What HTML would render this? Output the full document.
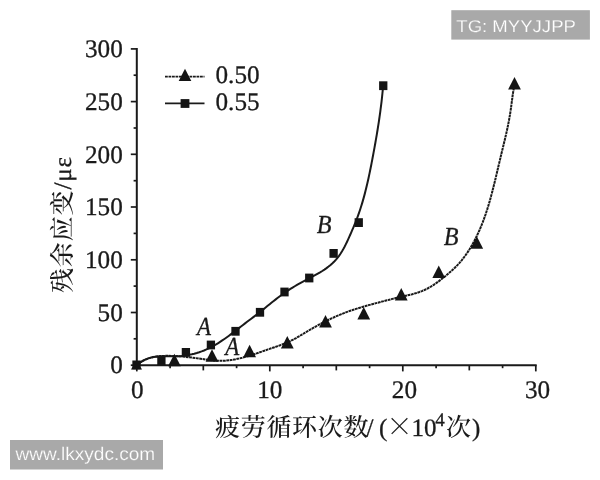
<!DOCTYPE html>
<html lang="zh"><head><meta charset="utf-8"><title>chart</title>
<style>html,body{margin:0;padding:0;background:#fff}body{width:600px;height:480px;overflow:hidden}svg{display:block}text{text-rendering:geometricPrecision}.n{font-family:"Liberation Serif",serif;font-size:25.2px;fill:#1a1a1a}.i{font-family:"Liberation Serif",serif;font-size:26px;font-style:italic;fill:#1a1a1a}.c{font-family:"Liberation Serif","Noto Serif CJK SC",serif;font-size:25px;font-weight:500;fill:#1a1a1a}.n,.i,.s{stroke:#1a1a1a;stroke-width:0.3px}.w{font-family:"Liberation Sans",sans-serif;fill:#fff;stroke:#a9a9a9;stroke-width:0.2px}</style></head><body>
<svg width="600" height="480" viewBox="0 0 600 480">
<rect width="600" height="480" fill="#fff"/>
<g stroke="#1a1a1a" stroke-width="1.7" fill="none">
<path d="M136.8,48.1 V365.2 H536.7" stroke-width="2"/>
<path d="M136.8,365.2 h-6"/>
<path d="M136.8,338.8 h-3.2"/>
<path d="M136.8,312.5 h-6"/>
<path d="M136.8,286.1 h-3.2"/>
<path d="M136.8,259.8 h-6"/>
<path d="M136.8,233.4 h-3.2"/>
<path d="M136.8,207.0 h-6"/>
<path d="M136.8,180.7 h-3.2"/>
<path d="M136.8,154.3 h-6"/>
<path d="M136.8,128.0 h-3.2"/>
<path d="M136.8,101.6 h-6"/>
<path d="M136.8,75.2 h-3.2"/>
<path d="M136.8,48.9 h-6"/>
<path d="M136.8,365.2 v6.2"/>
<path d="M170.1,365.2 v3.0"/>
<path d="M203.3,365.2 v5.2"/>
<path d="M236.6,365.2 v3.0"/>
<path d="M269.8,365.2 v6.2"/>
<path d="M303.1,365.2 v3.0"/>
<path d="M336.3,365.2 v5.2"/>
<path d="M369.6,365.2 v3.0"/>
<path d="M402.8,365.2 v6.2"/>
<path d="M436.1,365.2 v3.0"/>
<path d="M469.3,365.2 v5.2"/>
<path d="M502.6,365.2 v3.0"/>
<path d="M535.8,365.2 v6.2"/>
</g>
<path d="M136.90,365.12 L138.97,363.35 L141.14,361.80 L143.39,360.46 L145.72,359.32 L148.11,358.38 L150.55,357.63 L153.05,357.06 L155.57,356.66 L158.13,356.41 L160.71,356.29 L163.30,356.26 L165.91,356.28 L168.53,356.33 L171.14,356.37 L173.76,356.37 L176.37,356.31 L178.97,356.16 L181.56,355.95 L184.13,355.65 L186.70,355.28 L189.24,354.83 L191.77,354.30 L194.27,353.70 L196.76,353.01 L199.22,352.24 L201.65,351.39 L204.06,350.45 L206.44,349.44 L208.79,348.34 L211.10,347.17 L213.39,345.93 L215.65,344.63 L217.88,343.28 L220.09,341.88 L222.27,340.44 L224.42,338.96 L226.54,337.46 L228.65,335.94 L230.73,334.40 L232.79,332.85 L234.85,331.28 L236.89,329.70 L238.93,328.12 L240.97,326.54 L243.00,324.95 L245.05,323.37 L247.10,321.81 L249.16,320.25 L251.23,318.69 L253.31,317.14 L255.39,315.59 L257.46,314.01 L259.52,312.42 L261.57,310.80 L263.60,309.16 L265.63,307.50 L267.65,305.84 L269.67,304.19 L271.69,302.55 L273.71,300.93 L275.74,299.34 L277.78,297.77 L279.84,296.24 L281.91,294.72 L284.00,293.24 L286.11,291.78 L288.23,290.36 L290.39,288.96 L292.57,287.59 L294.78,286.25 L297.02,284.94 L299.29,283.66 L301.59,282.41 L303.91,281.17 L306.24,279.94 L308.57,278.71 L310.90,277.48 L313.22,276.23 L315.53,274.97 L317.81,273.67 L320.05,272.35 L322.26,270.98 L324.42,269.56 L326.53,268.09 L328.58,266.56 L330.56,264.95 L332.47,263.27 L334.29,261.50 L336.02,259.65 L337.66,257.69 L339.20,255.64 L340.65,253.50 L342.03,251.29 L343.34,249.02 L344.58,246.70 L345.77,244.34 L346.93,241.95 L348.04,239.55 L349.14,237.15 L350.21,234.75 L351.27,232.36 L352.31,229.97 L353.33,227.58 L354.32,225.19 L355.29,222.80 L356.24,220.40 L357.16,218.00 L358.05,215.58 L358.91,213.15 L359.75,210.72 L360.56,208.27 L361.34,205.81 L362.09,203.34 L362.82,200.86 L363.53,198.37 L364.22,195.87 L364.88,193.37 L365.53,190.85 L366.16,188.34 L366.76,185.81 L367.36,183.28 L367.93,180.75 L368.50,178.21 L369.04,175.66 L369.58,173.11 L370.11,170.57 L370.62,168.01 L371.13,165.46 L371.63,162.91 L372.12,160.35 L372.60,157.80 L373.09,155.25 L373.56,152.69 L374.03,150.14 L374.50,147.59 L374.96,145.04 L375.41,142.49 L375.86,139.93 L376.30,137.38 L376.74,134.83 L377.16,132.28 L377.58,129.72 L377.99,127.17 L378.39,124.61 L378.78,122.05 L379.17,119.49 L379.54,116.93 L379.90,114.37 L380.25,111.80 L380.59,109.23 L380.92,106.66 L381.24,104.09 L381.55,101.51 L381.84,98.93 L382.12,96.34 L382.39,93.76 L382.65,91.16 L382.89,88.57 L383.11,85.97" fill="none" stroke="#1a1a1a" stroke-width="2.0"/>
<path d="M136.88,365.03 L139.63,362.87 L142.51,361.06 L145.51,359.57 L148.62,358.38 L151.81,357.45 L155.08,356.77 L158.41,356.29 L161.78,356.00 L165.17,355.86 L168.59,355.85 L172.00,355.94 L175.39,356.10 L178.76,356.31 L182.12,356.57 L185.46,356.88 L188.80,357.24 L192.13,357.63 L195.47,358.07 L198.82,358.53 L202.18,359.03 L205.55,359.53 L208.93,360.00 L212.31,360.40 L215.69,360.69 L219.05,360.83 L222.41,360.81 L225.74,360.63 L229.07,360.30 L232.38,359.83 L235.68,359.25 L238.97,358.55 L242.24,357.76 L245.51,356.89 L248.77,355.94 L252.01,354.93 L255.25,353.87 L258.48,352.78 L261.70,351.67 L264.91,350.54 L268.12,349.42 L271.32,348.31 L274.51,347.22 L277.68,346.12 L280.84,344.98 L283.96,343.79 L287.05,342.52 L290.10,341.14 L293.10,339.63 L296.06,338.03 L298.99,336.35 L301.91,334.62 L304.81,332.87 L307.73,331.12 L310.65,329.40 L313.59,327.72 L316.54,326.07 L319.51,324.45 L322.50,322.87 L325.51,321.34 L328.53,319.84 L331.57,318.40 L334.64,317.00 L337.72,315.65 L340.83,314.35 L343.96,313.11 L347.12,311.92 L350.29,310.79 L353.49,309.71 L356.71,308.67 L359.94,307.67 L363.18,306.71 L366.44,305.78 L369.70,304.87 L372.97,303.99 L376.24,303.12 L379.51,302.26 L382.78,301.40 L386.04,300.55 L389.30,299.71 L392.57,298.87 L395.84,298.06 L399.12,297.26 L402.41,296.50 L405.71,295.75 L409.01,294.98 L412.30,294.16 L415.54,293.27 L418.74,292.26 L421.88,291.09 L424.95,289.76 L427.94,288.25 L430.86,286.59 L433.72,284.79 L436.52,282.89 L439.27,280.89 L441.98,278.81 L444.64,276.69 L447.27,274.53 L449.86,272.32 L452.39,270.07 L454.85,267.74 L457.22,265.35 L459.50,262.86 L461.69,260.29 L463.78,257.64 L465.78,254.92 L467.69,252.13 L469.53,249.29 L471.28,246.39 L472.95,243.45 L474.56,240.48 L476.09,237.47 L477.55,234.43 L478.95,231.37 L480.29,228.29 L481.58,225.17 L482.81,222.04 L483.98,218.89 L485.11,215.72 L486.19,212.52 L487.23,209.32 L488.23,206.09 L489.20,202.86 L490.13,199.61 L491.03,196.35 L491.91,193.07 L492.76,189.80 L493.59,186.51 L494.40,183.22 L495.20,179.92 L495.99,176.63 L496.77,173.33 L497.54,170.03 L498.32,166.73 L499.09,163.44 L499.87,160.15 L500.66,156.86 L501.45,153.59 L502.25,150.31 L503.04,147.04 L503.83,143.77 L504.62,140.50 L505.39,137.23 L506.14,133.95 L506.87,130.67 L507.58,127.38 L508.26,124.09 L508.90,120.78 L509.50,117.46 L510.07,114.13 L510.58,110.78 L511.06,107.41 L511.51,104.05 L511.95,100.67 L512.39,97.31 L512.87,93.96 L513.38,90.62 L513.96,87.31 L514.61,84.03" fill="none" stroke="#1a1a1a" stroke-width="2.0" stroke-dasharray="2.8 0.6"/>
<g fill="#141414">
<path d="M136.5,361 l5.6,8.4 h-11.2z"/>
<path d="M174.40,353.75 l6.4,12.5 h-12.8z"/>
<path d="M212.00,349.25 l6.4,12.5 h-12.8z"/>
<path d="M249.60,344.70 l6.4,12.5 h-12.8z"/>
<path d="M287.30,336.00 l6.4,12.5 h-12.8z"/>
<path d="M325.50,315.00 l6.4,12.5 h-12.8z"/>
<path d="M363.75,307.00 l6.4,12.5 h-12.8z"/>
<path d="M401.25,288.00 l6.4,12.5 h-12.8z"/>
<path d="M438.75,265.50 l6.4,12.5 h-12.8z"/>
<path d="M476.75,236.25 l6.4,12.5 h-12.8z"/>
<path d="M514.50,77.00 l6.4,12.5 h-12.8z"/>
<rect x="132.35" y="360.50" width="8.3" height="8.8"/>
<rect x="157.25" y="356.50" width="8.3" height="8.8"/>
<rect x="181.75" y="348.00" width="8.3" height="8.8"/>
<rect x="206.75" y="340.60" width="8.3" height="8.8"/>
<rect x="231.35" y="326.90" width="8.3" height="8.8"/>
<rect x="255.85" y="307.90" width="8.3" height="8.8"/>
<rect x="280.35" y="287.60" width="8.3" height="8.8"/>
<rect x="305.10" y="273.60" width="8.3" height="8.8"/>
<rect x="329.45" y="249.00" width="8.3" height="8.8"/>
<rect x="354.60" y="218.20" width="8.3" height="8.8"/>
<rect x="379.10" y="81.30" width="8.3" height="8.8"/>
</g>
<path d="M165,76.6 H204.5" stroke="#1a1a1a" stroke-width="1.8" stroke-dasharray="2.8 0.7"/>
<path d="M165,103.4 H204.5" stroke="#1a1a1a" stroke-width="1.7"/>
<path d="M185,68.8 l6.3,12.2 h-12.6z" fill="#141414"/>
<rect x="180.6" y="99.1" width="8.8" height="8.8" fill="#141414"/>
<text class="n" x="215.5" y="83.2">0.50</text>
<text class="n" x="215.5" y="110.2">0.55</text>
<text class="n" text-anchor="end" x="122.8" y="373.4">0</text>
<text class="n" text-anchor="end" x="122.8" y="320.7">50</text>
<text class="n" text-anchor="end" x="122.8" y="268.0">100</text>
<text class="n" text-anchor="end" x="122.8" y="215.2">150</text>
<text class="n" text-anchor="end" x="122.8" y="162.5">200</text>
<text class="n" text-anchor="end" x="122.8" y="109.8">250</text>
<text class="n" text-anchor="end" x="122.8" y="57.1">300</text>
<text class="n" text-anchor="middle" x="137.4" y="398.3">0</text>
<text class="n" text-anchor="middle" x="269.8" y="398.3">10</text>
<text class="n" text-anchor="middle" x="404.4" y="398.3">20</text>
<text class="n" text-anchor="middle" x="537.6" y="398.3">30</text>
<text class="i" transform="translate(197.10,334.60) scale(0.88,1)">A</text>
<text class="i" transform="translate(225.20,354.60) scale(0.88,1)">A</text>
<text class="i" transform="translate(316.75,232.80) scale(0.93,1)">B</text>
<text class="i" transform="translate(443.75,244.50) scale(0.93,1)">B</text>
<text class="c" transform="translate(70.5,293) rotate(-90)" textLength="136" lengthAdjust="spacing">残余应变<tspan class="s">/με</tspan></text>
<text class="c" x="215" y="435.8" letter-spacing="0.7">疲劳循环次数</text>
<text class="c s" x="366.6" y="435.8">/</text>
<text class="c s" x="379" y="435.8">(</text>
<text class="c" x="386" y="435.8" style="font-size:27px;font-family:'Noto Serif CJK SC',serif">×</text>
<text class="c s" x="411.5" y="435.8">10</text>
<text class="c s" x="435.2" y="426" style="font-size:19px">4</text>
<text class="c" x="446" y="435.8">次</text>
<text class="c s" x="472" y="435.8">)</text>
<rect x="451.3" y="10.2" width="138.6" height="29.4" fill="#a9a9a9"/>
<text class="w" x="456.3" y="31.5" font-size="17" textLength="119.6" lengthAdjust="spacingAndGlyphs">TG: MYYJJPP</text>
<rect x="10" y="440" width="153" height="29.5" fill="#a9a9a9"/>
<text class="w" x="15.6" y="460" font-size="18.2" textLength="139.6" lengthAdjust="spacingAndGlyphs">www.lkxydc.com</text>
</svg></body></html>
